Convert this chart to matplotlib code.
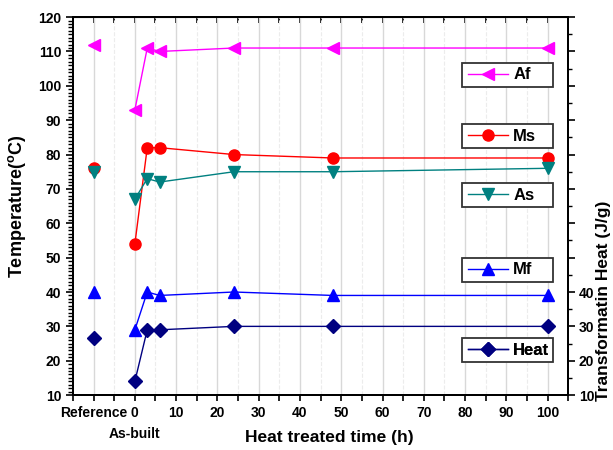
import matplotlib.pyplot as plt
from matplotlib.ticker import MultipleLocator, FixedLocator
from matplotlib.patches import Rectangle
import numpy as np

plt.rcParams['font.family'] = ['Liberation Sans', 'DejaVu Sans']
plt.rcParams['font.weight'] = 'bold'
plt.rcParams['mathtext.fontset'] = 'custom'
plt.rcParams['mathtext.rm'] = 'Liberation Sans:bold'
plt.rcParams['mathtext.bf'] = 'Liberation Sans:bold'

# heat treated time (h); reference sample sits at -10 on the axis
ref_x = -10
time_h = [0, 3, 6, 24, 48, 100]

# reference value first, then the treated series
af = [112, 93, 111, 110, 111, 111, 111]
ms = [76, 54, 82, 82, 80, 79, 79]
as_ = [75, 67, 73, 72, 75, 75, 76]
mf = [40, 29, 40, 39, 40, 39, 39]
heat = [26.5, 14, 29, 29, 30, 30, 30]

series = [
    ("Af", af, "#ff00ff", "<"),
    ("Ms", ms, "#ff0000", "o"),
    ("As", as_, "#008080", "v"),
    ("Mf", mf, "#0000ff", "^"),
    ("Heat", heat, "#000080", "D"),
]
legend_y = [0.847, 0.685, 0.529, 0.331, 0.119]

fig = plt.figure(figsize=(6.13, 4.5), dpi=100)
ax = fig.add_axes([0.119, 0.122, 0.808, 0.840])

for (name, vals, col, mk), ly in zip(series, legend_y):
    msz = 7 if mk == "D" else 8
    ax.plot([ref_x], [vals[0]], linestyle='none', marker=mk, color=col, markersize=msz)
    h, = ax.plot(time_h, vals[1:], '-', marker=mk, color=col, markersize=msz, linewidth=1.0)
    # each series gets its own boxed legend of equal width
    ax.add_patch(Rectangle((0.786, ly - 0.031), 0.184, 0.062, transform=ax.transAxes,
                           facecolor='white', edgecolor='#333333', linewidth=1.3, zorder=5))
    leg = ax.legend([h], [name], loc='center left', bbox_to_anchor=(0.786, ly),
                    fontsize=12, handlelength=2.4, handletextpad=0.3,
                    frameon=False, borderpad=0.0, borderaxespad=0.35)
    leg.set_zorder(6)
    ax.add_artist(leg)

ax.set_xlim(-15, 105)
ax.set_ylim(10, 120)

# left temperature axis ticks
ax.yaxis.set_major_locator(MultipleLocator(10))
ax.yaxis.set_minor_locator(MultipleLocator(1))
ax.tick_params(axis='y', which='major', direction='out', length=5, width=1.2, labelsize=10)
ax.tick_params(axis='y', which='minor', direction='out', length=3.5, width=1.0)

xt = [-10] + list(range(0, 101, 10))
ax.set_xticks(xt)
ax.set_xticklabels(["Reference"] + [str(v) for v in range(0, 101, 10)], fontsize=10, fontweight='bold')
ax.xaxis.set_minor_locator(FixedLocator(np.arange(-15, 106, 5)))
ax.tick_params(axis='x', which='both', direction='out', length=4, width=1.2, top=False)

ax.grid(axis='x', which='major', color='#d8d8d8', linewidth=1.0)
ax.grid(axis='x', which='minor', color='#ececec', linewidth=0.8, linestyle='--')
ax.set_axisbelow(True)

ax.text(0, -0.085, "As-built", transform=ax.get_xaxis_transform(), ha='center', va='top',
        fontsize=10, fontweight='bold')

ax.set_xlabel("Heat treated time (h)", fontsize=12.5, fontweight='bold')
ax.xaxis.set_label_coords(0.518, -0.093)
ax.set_ylabel(r"Temperature($^{\rm o}$C)", fontsize=13, fontweight='bold')
ax.yaxis.set_label_coords(-0.09, 0.5)

# right axis: transformation heat, same scale, labels only up to 40
ax2 = ax.twinx()
ax2.set_ylim(10, 120)
ax2.set_yticks(np.arange(10, 121, 10))
ax2.set_yticklabels([str(v) if v <= 40 else "" for v in range(10, 121, 10)], fontsize=10, fontweight='bold')
ax2.yaxis.set_minor_locator(MultipleLocator(5))
ax2.tick_params(axis='y', which='major', direction='out', length=5, width=1.2, pad=2.5)
ax2.tick_params(axis='y', which='minor', direction='out', length=3, width=1.0)
ax2.set_ylabel("Transformatin Heat (J/g)", fontsize=12.5, fontweight='bold')
ax2.yaxis.set_label_coords(1.057, 0.25)

# top ticks pointing inward
top = ax.secondary_xaxis('top')
top.set_xticks(np.arange(-10, 106, 5))
top.tick_params(direction='in', length=4, width=1.2, labeltop=False)

for lab in ax.get_yticklabels():
    lab.set_fontweight('bold')

for a in (ax, ax2):
    for s in a.spines.values():
        s.set_linewidth(1.4)

fig.savefig("out.png", dpi=100)
